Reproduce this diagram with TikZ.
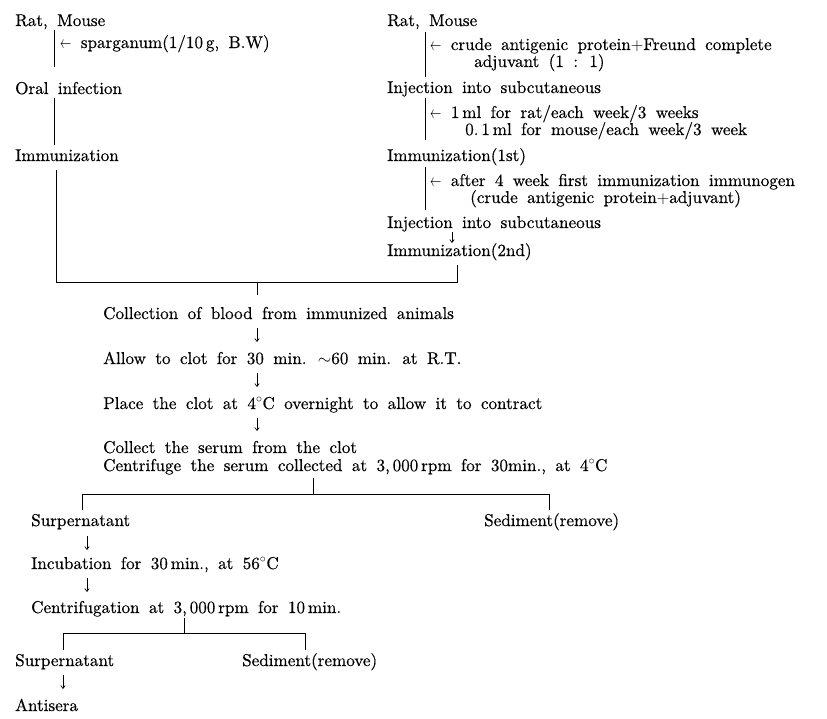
\documentclass[tikz,border=0pt]{standalone}
\usepackage{fontspec}
\newfontfamily\lmheavy{lmroman10-regular.otf}[FakeBold=0.5]
\usetikzlibrary{arrows.meta}
\newcommand{\larr}{\scalebox{0.65}[1]{$\leftarrow$}}
\newcommand{\txtfont}{\lmheavy\fontsize{17.1}{20}\selectfont\spaceskip 0.55em\relax}
\begin{document}
\begin{tikzpicture}[x=1pt,y=-1pt,
  txt/.style={anchor=base west, inner sep=0pt, text height=12pt, text depth=3pt,
    font=\txtfont},
  ln/.style={line width=0.8pt},
  dn/.style={line width=0.7pt, -{To[length=3.5pt,width=5pt]}}]
\useasboundingbox (0,0) rectangle (827,718);
% left column
\node[txt] (rmL) at (15,26) {Rat, Mouse};
\node[txt] (spL) at (60,48) {\larr\ sparganum(1/10\,g, B.W)};
\node[txt] (oral) at (15,94) {Oral infection};
\node[txt] (immL) at (15,161) {Immunization};
\coordinate (lx) at (54,0);
\draw[ln, shorten <=1pt, shorten >=15pt] (rmL.south -| lx) -- (oral.north -| lx);
\draw[ln, shorten <=1pt, shorten >=4pt] (oral.south -| lx) -- (immL.north -| lx);
% right column
\node[txt] (rmR) at (387,26) {Rat, Mouse};
\node[txt] (cr1) at (430,50) {\larr\ crude antigenic protein$+$Freund complete};
\node[txt] (cr2) at (474,67) {adjuvant (1 : 1)};
\node[txt] (inj1) at (387,93) {Injection into subcutaneous};
\node[txt] (ml1) at (430,118) {\larr\ 1\,ml for rat/each week/3 weeks};
\node[txt] (ml2) at (465,135) {0.\,1\,ml for mouse/each week/3 week};
\node[txt] (im1) at (387,161) {Immunization(1st)};
\node[txt] (af1) at (430,186) {\larr\ after 4 week first immunization immunogen};
\node[txt] (af2) at (470,203) {(crude antigenic protein$+$adjuvant)};
\node[txt] (inj2) at (387,228) {Injection into subcutaneous};
\node[txt] (im2) at (387,256) {Immunization(2nd)};
\coordinate (rx) at (425,0);
\coordinate (ax) at (452,0);
\draw[ln, shorten <=3pt, shorten >=4pt] (rmR.south -| rx) -- (inj1.north -| rx);
\draw[ln, shorten <=2pt, shorten >=9pt] (inj1.south -| rx) -- (im1.north -| rx);
\draw[ln, shorten <=3pt, shorten >=6pt] (im1.south -| rx) -- (inj2.north -| rx);
\draw[dn, shorten <=1pt, shorten >=1pt] (inj2.south -| ax) -- (im2.north -| ax);
% join
\coordinate (jL) at (56,282);
\coordinate (jR) at (457,282);
\coordinate (jC) at (257,283);
\draw[ln] ([yshift=-6pt]immL.south -| jL) -- (jL) -- (jR) -- ([yshift=-6pt]im2.south -| jR);
% middle
\node[txt] (coll) at (103,319) {Collection of blood from immunized animals};
\node[txt] (allow) at (103,364) {Allow to clot for 30 min. $\sim$60 min. at R.T.};
\node[txt] (place) at (103,409) {Place the clot at 4$^{\circ}$C overnight to allow it to contract};
\node[txt] (collect) at (103,453) {Collect the serum from the clot};
\node[txt] (centr) at (103,471) {Centrifuge the serum collected at 3,\,000\,rpm for 30min., at 4$^{\circ}$C};
\draw[ln, shorten >=12pt] (jC) -- (coll.north -| jC);
\draw[dn, shorten <=6pt, shorten >=10pt] (coll.south -| jC) -- (allow.north -| jC);
\draw[dn, shorten <=6pt, shorten >=10pt] (allow.south -| jC) -- (place.north -| jC);
\draw[dn, shorten <=6pt, shorten >=10pt] (place.south -| jC) -- (collect.north -| jC);
% first branch
\coordinate (bC) at (313,494);
\coordinate (bL) at (82,494);
\coordinate (bR) at (549,494);
\node[txt] (sup1) at (31,526) {Surpernatant};
\node[txt] (sed1) at (484,526) {Sediment(remove)};
\draw[ln] ([yshift=-4pt]centr.south -| bC) -- (bC);
\draw[ln, shorten <=4pt, shorten >=4pt] (sup1.north -| bL) -- (bL) -- (bR) -- (sed1.north -| bR);
\node[txt] (incub) at (31,569) {Incubation for 30\,min., at 56$^{\circ}$C};
\node[txt] (cfg) at (31,613) {Centrifugation at 3,\,000\,rpm for 10\,min.};
\coordinate (sx) at (87,0);
\draw[dn, shorten <=7pt, shorten >=7pt] (sup1.south -| sx) -- (incub.north -| sx);
\draw[dn, shorten <=6pt, shorten >=9pt] (incub.south -| sx) -- (cfg.north -| sx);
% second branch
\coordinate (dC) at (184,633);
\coordinate (dL) at (63,633);
\coordinate (dR) at (305,633);
\node[txt] (sup2) at (15,666) {Surpernatant};
\node[txt] (sed2) at (242,666) {Sediment(remove)};
\node[txt] (anti) at (15,711) {Antisera};
\draw[ln, shorten <=2pt] (cfg.south -| dC) -- (dC);
\draw[ln, shorten <=4pt, shorten >=4pt] (sup2.north -| dL) -- (dL) -- (dR) -- (sed2.north -| dR);
\draw[dn, shorten <=6pt, shorten >=10pt] (sup2.south -| dL) -- (anti.north -| dL);
\end{tikzpicture}
\end{document}
